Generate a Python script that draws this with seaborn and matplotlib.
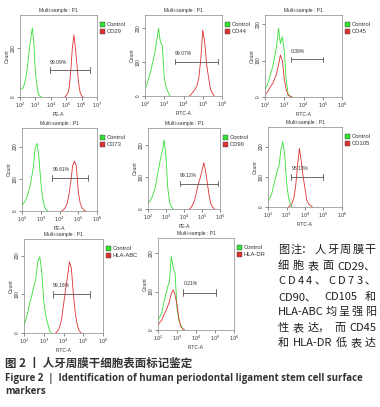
import numpy as np
import pandas as pd
import matplotlib
matplotlib.use("Agg")
import matplotlib.pyplot as plt
import seaborn as sns
from matplotlib.patches import Rectangle

sns.set_theme(style="white")
plt.rcParams['font.family'] = ['Liberation Sans', 'DejaVu Sans']

W, H = 380, 407

# ---------------- data (counts per 0.1-decade bin, start exponent) ----------------
markers = ["CD29", "CD44", "CD45", "CD73", "CD90", "CD105", "HLA-ABC", "HLA-DR"]
channels = ["PE-A", "FITC-A", "FITC-A", "PE-A", "PE-A", "FITC-A", "FITC-A", "FITC-A"]
percents = ["99.09%", "99.07%", "0.39%", "99.61%", "99.12%", "98.13%", "99.18%", "0.21%"]
x_decades_max = [7, 6, 6, 6, 6, 6, 6, 6]
y_max = [335, 240, 225, 258, 255, 265, 243, 239]
y_ticks = [[0, 200], [0, 100, 200], [0, 100, 200], [0, 100, 200], [0, 100, 200],
           [0, 100, 200], [0, 100, 200], [0, 100, 200]]

ctrl_start = [2.0, 2.0, 2.0, 2.0, 2.0, 2.0, 2.0, 2.0]
cd29_ctrl = [30, 33, 37, 55, 84, 130, 193, 240, 282, 220, 98, 50, 10, 3, 0]
cd44_ctrl = [20, 35, 55, 75, 100, 125, 160, 200, 160, 150, 55, 25, 12, 0]
cd45_ctrl = [23, 30, 46, 65, 83, 110, 138, 188, 147, 165, 128, 46, 9, 3, 0]
cd73_ctrl = [19, 25, 34, 50, 71, 100, 133, 196, 210, 170, 92, 40, 12, 3, 0]
cd90_ctrl = [18, 25, 34, 50, 66, 100, 130, 160, 183, 217, 162, 66, 20, 7, 0]
cd105_ctrl = [19, 30, 44, 70, 94, 120, 139, 190, 216, 177, 83, 35, 10, 0]
hlaabc_ctrl = [21, 35, 56, 80, 98, 120, 141, 185, 197, 158, 81, 45, 25, 5, 0]
hladr_ctrl = [26, 35, 43, 70, 91, 110, 126, 191, 161, 148, 57, 25, 13, 3, 0]

sample_start = [4.9, 4.3, 2.0, 4.1, 4.3, 3.1, 3.6, 2.0]
cd29_sample = [0, 5, 15, 40, 110, 200, 254, 200, 130, 60, 20, 5, 0]
cd44_sample = [0, 5, 12, 20, 30, 55, 110, 195, 160, 95, 55, 20, 8, 0]
cd45_sample = [8, 12, 20, 30, 37, 50, 64, 87, 115, 100, 50, 20, 5, 2, 0]
cd73_sample = [0, 3, 10, 22, 50, 90, 140, 155, 140, 60, 25, 10, 3, 0]
cd90_sample = [0, 5, 15, 30, 55, 80, 98, 120, 146, 120, 80, 40, 15, 5, 0]
cd105_sample = [0, 5, 12, 30, 72, 140, 194, 150, 100, 61, 22, 10, 5, 0]
hlaabc_sample = [0, 5, 15, 35, 73, 110, 145, 184, 167, 100, 50, 20, 5, 0]
hladr_sample = [13, 20, 26, 38, 48, 60, 74, 95, 104, 91, 65, 30, 9, 3, 0]

gate_lo = [3.93, 3.56, 3.35, 3.62, 3.77, 3.27, 3.48, 3.34]
gate_hi = [6.52, 5.77, 5.03, 5.50, 5.91, 4.96, 5.33, 5.03]
gate_y = [109, 102, 103, 102, 80, 100, 100, 97]

controls = [cd29_ctrl, cd44_ctrl, cd45_ctrl, cd73_ctrl, cd90_ctrl, cd105_ctrl, hlaabc_ctrl, hladr_ctrl]
samples = [cd29_sample, cd44_sample, cd45_sample, cd73_sample, cd90_sample, cd105_sample, hlaabc_sample, hladr_sample]

# ---------------- layout (pixel boxes) ----------------
boxes = [(20, 15, 97, 97), (145, 15, 222, 96), (265, 15, 342, 97),
         (22, 128, 97, 211), (148, 128, 220, 209), (268, 127, 342, 207),
         (24, 239, 103, 333), (158, 238, 234, 330)]

GREEN = "#33e033"
RED = "#e03030"
GATE = "#555555"
SPINE = "#888888"

fig = plt.figure(figsize=(W / 100, H / 100), dpi=100)
fig.patch.set_facecolor("white")


def series_df(start, counts):
    xs = [10 ** (start + 0.1 * i) for i in range(len(counts))]
    return pd.DataFrame({"x": xs, "count": counts})


for i, (x0, y0, x1, y1) in enumerate(boxes):
    ax = fig.add_axes([x0 / W, 1 - y1 / H, (x1 - x0) / W, (y1 - y0) / H])
    ax.set_facecolor("white")
    dc = series_df(ctrl_start[i], controls[i])
    dsm = series_df(sample_start[i], samples[i])
    sns.lineplot(data=dc, x="x", y="count", ax=ax, color=GREEN, lw=0.6)
    sns.lineplot(data=dsm, x="x", y="count", ax=ax, color=RED, lw=0.6)
    ax.set_xscale("log")
    ax.set_xlim(10 ** 2, 10 ** x_decades_max[i])
    ax.set_ylim(0, y_max[i])
    xt = [10 ** k for k in range(2, x_decades_max[i] + 1)]
    ax.set_xticks(xt)
    ax.set_xticklabels([f"$10^{{{k}}}$" for k in range(2, x_decades_max[i] + 1)], fontsize=3.6)
    ax.set_yticks(y_ticks[i])
    ax.set_yticklabels([str(t) for t in y_ticks[i]], fontsize=3.4, rotation=90, va="center")
    ax.tick_params(axis="both", which="major", length=2, width=0.4, pad=1, colors="#333333",
                   bottom=True, left=True)
    ax.tick_params(axis="x", which="minor", length=1.2, width=0.3, bottom=True, colors="#333333")
    for s in ax.spines.values():
        s.set_color(SPINE)
        s.set_linewidth(0.5)
    ax.set_xlabel(channels[i], fontsize=3.6, labelpad=1, color="#333333")
    ax.set_ylabel("Count", fontsize=3.6, labelpad=1, color="#333333")
    ax.set_title("Multi-sample : P1", fontsize=3.6, pad=2, color="#333333")
    # gate
    glo, ghi, gy = 10 ** gate_lo[i], 10 ** gate_hi[i], gate_y[i]
    cap = y_max[i] * 0.035
    ax.plot([glo, ghi], [gy, gy], color=GATE, lw=0.6)
    ax.plot([glo, glo], [gy - cap, gy + cap], color=GATE, lw=0.6)
    ax.plot([ghi, ghi], [gy - cap, gy + cap], color=GATE, lw=0.6)
    ax.text(glo, gy + y_max[i] * 0.07, percents[i], fontsize=3.6, color="#333333", ha="left", va="bottom")
    # legend squares
    lx = x1 + 3
    for j, (col, lab) in enumerate([(GREEN, "Control"), (RED, markers[i])]):
        ty = y0 + 7 + j * 7
        fig.patches.append(Rectangle((lx / W, 1 - (ty + 5) / H), 5 / W, 5 / H,
                                     transform=fig.transFigure, facecolor=col,
                                     edgecolor="#444444", linewidth=0.3))
        fig.text((lx + 6.5) / W, 1 - (ty + 2.5) / H, lab, fontsize=4.2, color="#333333",
                 ha="left", va="center")

# ---------------- right note text (justified) ----------------
note_lines = ["图注：人牙周膜干", "细胞表面 CD29、", "CD44、CD73、", "CD90、CD105 和",
              "HLA-ABC 均呈强阳", "性表达，而 CD45", "和 HLA-DR 低表达"]
note_spread = [False, False, True, False, False, False, False]
note_y = [250, 266, 281, 297, 312, 328, 343]
NX0, NX1 = 278, 376
cjk = ['Noto Sans CJK SC', 'DejaVu Sans']
PUNCT = "、，：。"


def tokens(line, spread):
    if spread:
        return [c for c in line if c != " "]
    toks, buf = [], ""
    for ch in line:
        if ord(ch) < 128:
            if ch == " ":
                if buf:
                    toks.append(buf)
                    buf = ""
            else:
                buf += ch
        elif ch in PUNCT:
            if buf:
                toks.append(buf + ch)
                buf = ""
            elif toks:
                toks[-1] = toks[-1] + ch
            else:
                toks.append(ch)
        else:
            if buf:
                toks.append(buf)
                buf = ""
            toks.append(ch)
    if buf:
        toks.append(buf)
    return toks


fig.canvas.draw()
renderer = fig.canvas.get_renderer()
for line, sp, yy in zip(note_lines, note_spread, note_y):
    toks = tokens(line, sp)
    objs = []
    widths = []
    for t in toks:
        tt = fig.text(0, 0, t, fontsize=8.0, family=cjk, color="#231f20", va="center", ha="left")
        bb = tt.get_window_extent(renderer=renderer)
        objs.append(tt)
        widths.append(bb.width)
    total = sum(widths)
    gap = (NX1 - NX0 - total) / max(len(toks) - 1, 1)
    x = NX0
    for tt, w in zip(objs, widths):
        tt.set_position((x / W, 1 - yy / H))
        x += w + gap

# ---------------- caption ----------------
fig.text(5 / W, 1 - 363 / H, "图 2 丨 人牙周膜干细胞表面标记鉴定", fontsize=8.3, family=cjk,
         fontweight="bold", color="#333333", va="center", ha="left")
fig.text(5 / W, 1 - 378 / H,
         "Figure 2  |  Identification of human periodontal ligament stem cell surface",
         fontsize=7.0, family=['Open Sans', 'DejaVu Sans'], fontweight="bold",
         color="#333333", va="center", ha="left")
fig.text(5 / W, 1 - 392 / H, "markers", fontsize=7.0, family=['Open Sans', 'DejaVu Sans'],
         fontweight="bold", color="#333333", va="center", ha="left")

fig.savefig("out.png", dpi=100, facecolor="white")
